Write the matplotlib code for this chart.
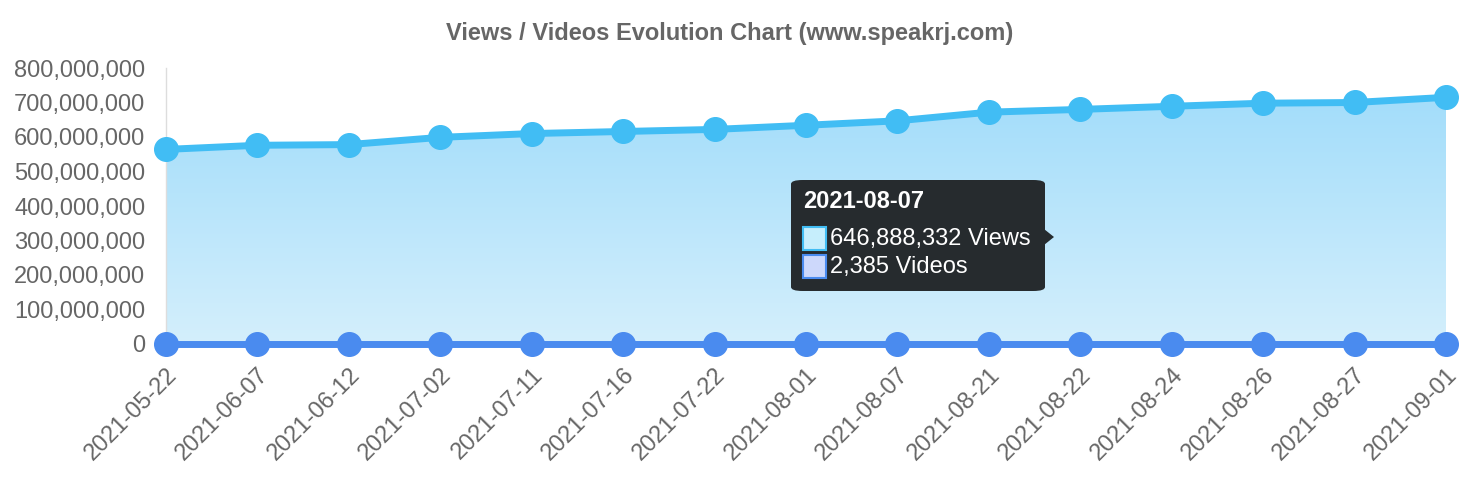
import matplotlib
matplotlib.use("Agg")
import matplotlib.pyplot as plt
import numpy as np
from matplotlib.patches import FancyBboxPatch, Polygon, Rectangle
from matplotlib.ticker import FuncFormatter

plt.rcParams['font.family'] = ['Liberation Sans', 'DejaVu Sans']

dates = ["2021-05-22", "2021-06-07", "2021-06-12", "2021-07-02", "2021-07-11",
         "2021-07-16", "2021-07-22", "2021-08-01", "2021-08-07", "2021-08-21",
         "2021-08-22", "2021-08-24", "2021-08-26", "2021-08-27", "2021-09-01"]
views = [564e6, 576e6, 578e6, 599e6, 610e6, 616e6, 622e6, 634e6, 646888332,
         672e6, 680e6, 689e6, 698e6, 700e6, 715e6]
videos = [2181, 2215, 2232, 2279, 2301, 2318, 2334, 2361, 2385, 2421,
          2426, 2433, 2441, 2444, 2462]
yticks = [0, 100e6, 200e6, 300e6, 400e6, 500e6, 600e6, 700e6, 800e6]
title = "Views / Videos Evolution Chart (www.speakrj.com)"
tip_date = "2021-08-07"
tip_views = "646,888,332 Views"
tip_videos = "2,385 Videos"

W, H = 1460, 500
fig = plt.figure(figsize=(W / 100, H / 100), dpi=100)
x0, x1, ytop, ybot = 166, 1446, 68, 344
ax = fig.add_axes([x0 / W, 1 - ybot / H, (x1 - x0) / W, (ybot - ytop) / H])

x = np.arange(len(dates))
views_c = "#41bdf4"
videos_c = "#4a8bef"

# gradient fill under views
grad = np.linspace(0, 1, 256).reshape(-1, 1)
top_rgb = np.array([163, 221, 250]) / 255
bot_rgb = np.array([212, 239, 252]) / 255
img = top_rgb * (1 - grad[..., None]) + bot_rgb * grad[..., None]
img = img.reshape(256, 1, 3)
im = ax.imshow(img, extent=[x[0], x[-1], 0, max(views)], aspect="auto",
               origin="upper", zorder=1)
poly = Polygon(np.column_stack([np.r_[x, x[::-1]], np.r_[views, np.zeros(len(x))]]),
               closed=True, transform=ax.transData)
im.set_clip_path(poly)

ax.plot(x, views, color=views_c, lw=5, marker="o", ms=17, zorder=3,
        solid_capstyle="round", clip_on=False)
ax.plot(x, videos, color=videos_c, lw=5, marker="o", ms=17, zorder=4,
        clip_on=False)

ax.set_xlim(x[0], x[-1])
ax.set_ylim(0, 800e6)
ax.set_yticks(yticks)
ax.yaxis.set_major_formatter(FuncFormatter(lambda v, p: f"{int(v):,}"))
ax.set_xticks(x)
ax.set_xticklabels(dates, rotation=45, ha="right", rotation_mode="anchor")
ax.tick_params(axis="both", length=0, labelsize=17, colors="#666666")
ax.tick_params(axis="y", pad=15)
ax.tick_params(axis="x", pad=14)
for s in ["top", "right", "bottom"]:
    ax.spines[s].set_visible(False)
ax.spines["left"].set_color("#dddddd")
ax.spines["left"].set_linewidth(1)
ax.patch.set_alpha(0)

fig.text(730 / W, 1 - 33 / H, title, ha="center", va="center", fontsize=17,
         fontweight="bold", color="#666666")

# tooltip
def fx(px):
    return px / W

def fy(py):
    return 1 - py / H

box = FancyBboxPatch((fx(791), fy(291)), fx(1045) - fx(791), fy(180) - fy(291),
                     boxstyle="round,pad=0,rounding_size=0.008",
                     transform=fig.transFigure, facecolor="#262b2e",
                     edgecolor="none", zorder=10, mutation_aspect=H / W * 2.9)
fig.add_artist(box)
arrow = Polygon([[fx(1044), fy(229)], [fx(1054), fy(237)], [fx(1044), fy(245)]],
                closed=True, transform=fig.transFigure, facecolor="#262b2e",
                edgecolor="none", zorder=10)
fig.add_artist(arrow)
fig.text(fx(803), fy(202), tip_date, ha="left", va="center", fontsize=17,
         fontweight="bold", color="white", zorder=11)
fig.add_artist(Rectangle((fx(803), fy(250)), fx(826) - fx(803), fy(227) - fy(250),
                         transform=fig.transFigure, facecolor="#c6eefc",
                         edgecolor="#41bdf4", lw=1.5, zorder=11))
fig.add_artist(Rectangle((fx(803), fy(278)), fx(826) - fx(803), fy(255) - fy(278),
                         transform=fig.transFigure, facecolor="#cdd8fb",
                         edgecolor="#4a8bef", lw=1.5, zorder=11))
fig.text(fx(830), fy(239), tip_views, ha="left", va="center", fontsize=17,
         color="white", zorder=11)
fig.text(fx(830), fy(267), tip_videos, ha="left", va="center", fontsize=17,
         color="white", zorder=11)

fig.savefig("out.png", dpi=100)
